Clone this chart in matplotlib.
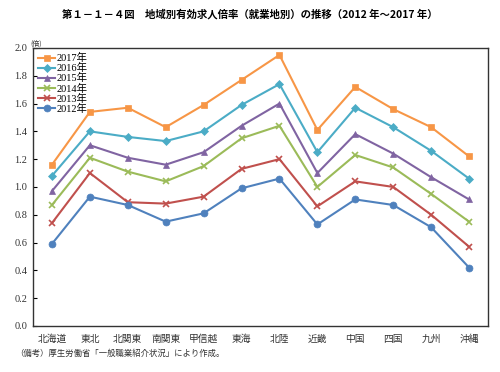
import matplotlib.pyplot as plt

plt.rcParams['font.family'] = ['Noto Sans CJK JP', 'DejaVu Sans']

# 地域
regions = ['北海道', '東北', '北関東', '南関東', '甲信越', '東海', '北陸',
           '近畿', '中国', '四国', '九州', '沖縄']

# 有効求人倍率
y2017 = [1.16, 1.54, 1.57, 1.43, 1.59, 1.77, 1.95, 1.41, 1.72, 1.56, 1.43, 1.22]
y2016 = [1.08, 1.40, 1.36, 1.33, 1.40, 1.59, 1.74, 1.25, 1.57, 1.43, 1.26, 1.06]
y2015 = [0.97, 1.30, 1.21, 1.16, 1.25, 1.44, 1.60, 1.10, 1.38, 1.24, 1.07, 0.91]
y2014 = [0.87, 1.21, 1.11, 1.04, 1.15, 1.35, 1.44, 1.00, 1.23, 1.14, 0.95, 0.75]
y2013 = [0.74, 1.10, 0.89, 0.88, 0.93, 1.13, 1.20, 0.86, 1.04, 1.00, 0.80, 0.57]
y2012 = [0.59, 0.93, 0.87, 0.75, 0.81, 0.99, 1.06, 0.73, 0.91, 0.87, 0.71, 0.42]

series = [
    ('2017年', y2017, '#F79646', 's'),
    ('2016年', y2016, '#4BACC6', 'D'),
    ('2015年', y2015, '#8064A2', '^'),
    ('2014年', y2014, '#9BBB59', 'x'),
    ('2013年', y2013, '#C0504D', 'x'),
    ('2012年', y2012, '#4F81BD', 'o'),
]

serif = ['Liberation Serif', 'Noto Sans CJK JP']

fig = plt.figure(figsize=(5, 3.72), dpi=100)
ax = fig.add_axes([0.066, 0.124, 0.91, 0.747])

x = list(range(len(regions)))
for label, vals, color, mk in series:
    ms = 4 if mk == 'D' else 5
    ax.plot(x, vals, color=color, marker=mk, markersize=ms, linewidth=1.5,
            markeredgewidth=1.2 if mk == 'x' else 0.5, label=label)

ax.set_ylim(0, 2.0)
ax.set_xlim(-0.5, len(regions) - 0.5)
ax.set_yticks([i * 0.2 for i in range(11)])
ax.set_yticklabels([f'{i * 0.2:.1f}' for i in range(11)], family=serif, fontsize=7.5, color='#333333')
ax.set_xticks(x)
ax.set_xticklabels(regions, fontsize=7, color='#333333')
ax.tick_params(axis='y', direction='in', length=3, pad=4)
ax.tick_params(axis='x', length=0, pad=6)
for s in ax.spines.values():
    s.set_color('#333333')
    s.set_linewidth(1.0)

leg = ax.legend(loc='upper left', frameon=False, prop={'family': serif, 'size': 7.5},
                handlelength=1.6, labelspacing=0.0, borderaxespad=0.1,
                handletextpad=0.2, bbox_to_anchor=(0.0, 1.0))

fig.text(0.061, 0.877, '(倍)', fontsize=5, color='#333333')
fig.text(0.5, 0.952, '第１－１－４図　地域別有効求人倍率（就業地別）の推移（2012 年～2017 年）',
         ha='center', fontsize=7.5, fontweight='bold')
fig.text(0.03, 0.042, '（備考）厚生労働省「一般職業紹介状況」により作成。', fontsize=6, color='#333333')

fig.savefig('out.png', dpi=100)
